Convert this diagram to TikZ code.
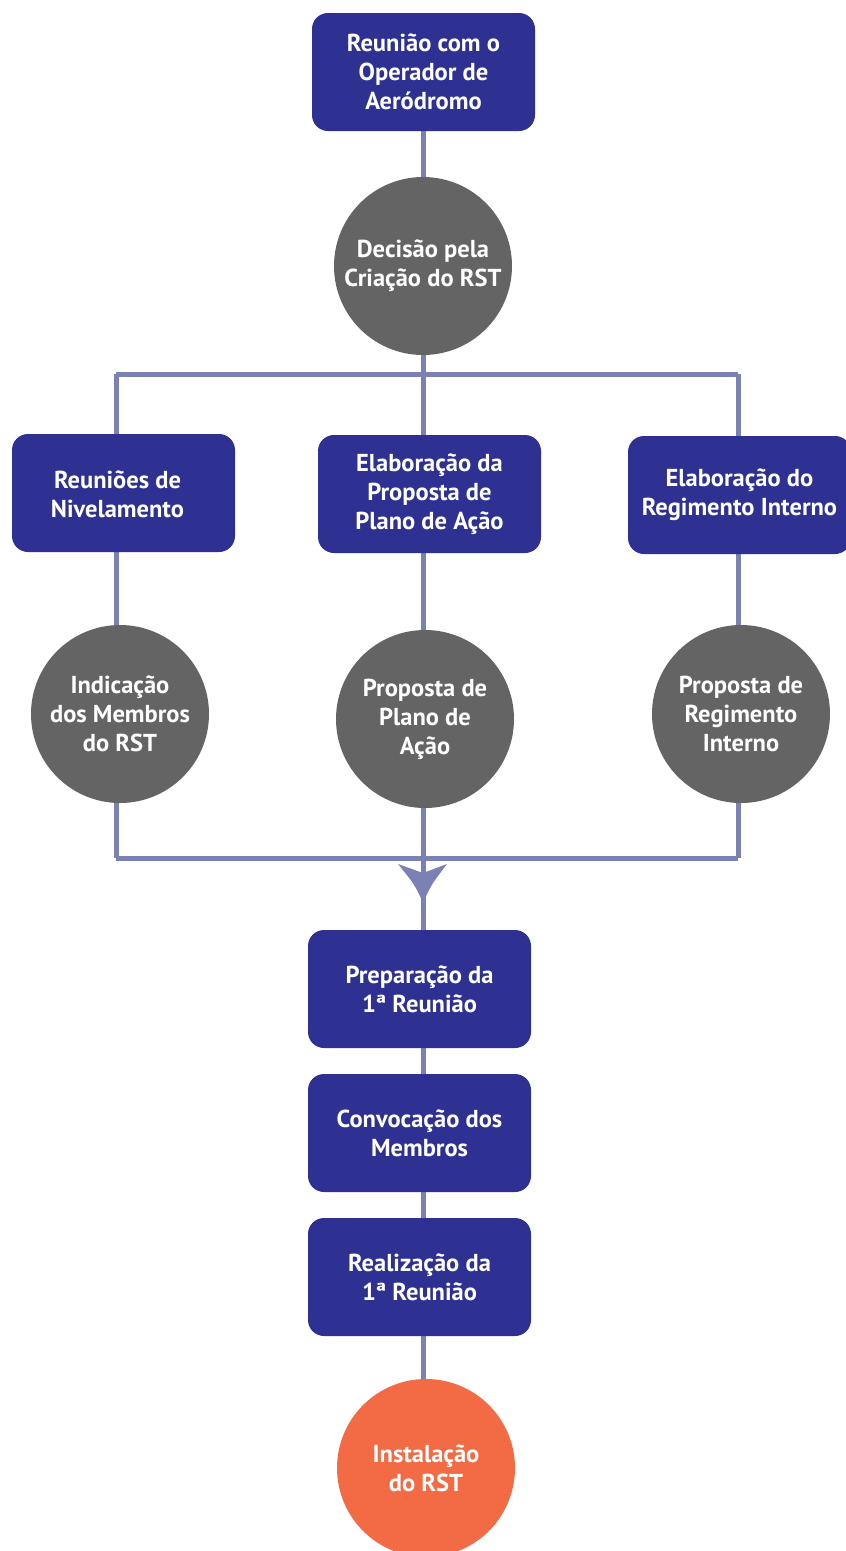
\documentclass[tikz,border=0pt]{standalone}
\usepackage{fontspec}
\setmainfont{PT Sans}
\usetikzlibrary{calc,backgrounds}
\definecolor{boxc}{HTML}{2E3192}
\definecolor{grayc}{HTML}{646464}
\definecolor{orc}{HTML}{F26B45}
\definecolor{linec}{HTML}{7B80B5}
\begin{document}
\begin{tikzpicture}[x=1pt,y=-1pt,
  every node/.style={text=white,font=\fontsize{24.5}{29}\selectfont\bfseries,align=center,inner sep=0pt},
  stepbox/.style={fill=boxc,rounded corners=16pt,minimum width=223pt,minimum height=118pt},
  graycirc/.style={circle,fill=grayc,minimum size=178pt},
  orcirc/.style={circle,fill=orc,minimum size=178pt},
  conn/.style={draw=linec,line width=5pt}]
\useasboundingbox (0,0) rectangle (846,1551);
% nodes
\node[stepbox] (top) at (423.5,72) {Reunião com o\\Operador de\\Aeródromo};
\node[graycirc] (dec) at (423,266) {Decisão pela\\Criação do RST};
\node[stepbox,label={[xshift=-6pt,yshift=-1pt]center:Reuniões de\\Nivelamento}] (b1) at (123.5,493) {};
\node[stepbox] (b2) at (429.5,494) {Elaboração da\\Proposta de\\Plano de Ação};
\node[stepbox] (b3) at (739.5,495) {Elaboração do\\Regimento Interno};
\node[graycirc] (c1) at (120,714) {Indicação\\dos Membros\\do RST};
\node[graycirc] (c2) at (425,719) {Proposta de\\Plano de\\Ação};
\node[graycirc] (c3) at (741,714) {Proposta de\\Regimento\\Interno};
\node[stepbox] (p1) at (419.5,989) {Preparação da\\1ª Reunião};
\node[stepbox] (p2) at (419.5,1133) {Convocação dos\\Membros};
\node[stepbox] (p3) at (419.5,1277) {Realização da\\1ª Reunião};
\node[orcirc] (fin) at (426,1468) {Instalação\\do RST};
% line reference coordinates
\coordinate (jl) at (116,374);
\coordinate (jt) at (423,374);
\coordinate (jr) at (738,374);
\coordinate (bl) at (116,858);
\coordinate (bc) at (423,858);
\coordinate (br) at (738,858);
\coordinate (ah) at (423,903);
% connectors (behind nodes)
\begin{scope}[on background layer]
\draw[conn] (top.center -| jt) -- (dec.center -| jt);
\draw[conn] (dec.center -| jt) -- (jt);
\draw[conn] (jl) -- (jt) -- (jr);
\draw[conn] (jl) -- (b1.center -| jl) -- (c1.center -| jl) -- (bl);
\draw[conn] (jr) -- (b3.center -| jr) -- (c3.center -| jr) -- (br);
\draw[conn] (jt) -- (b2.center -| jt) -- (c2.center -| jt) -- (bc);
\draw[conn] (bl) -- (bc) -- (br);
\draw[conn] (bc) -- (p1.center -| bc) -- (p2.center -| bc) -- (p3.center -| bc) -- (fin.center -| bc);
\end{scope}
% arrowhead
\fill[linec] (ah) .. controls ($(ah)+(-8,-18)$) .. ($(ah)+(-25,-39)$)
  .. controls ($(ah)+(-12,-34)$) .. ($(ah)+(0,-30)$)
  .. controls ($(ah)+(12,-34)$) .. ($(ah)+(24,-39)$)
  .. controls ($(ah)+(8,-18)$) .. (ah) -- cycle;
\end{tikzpicture}
\end{document}
